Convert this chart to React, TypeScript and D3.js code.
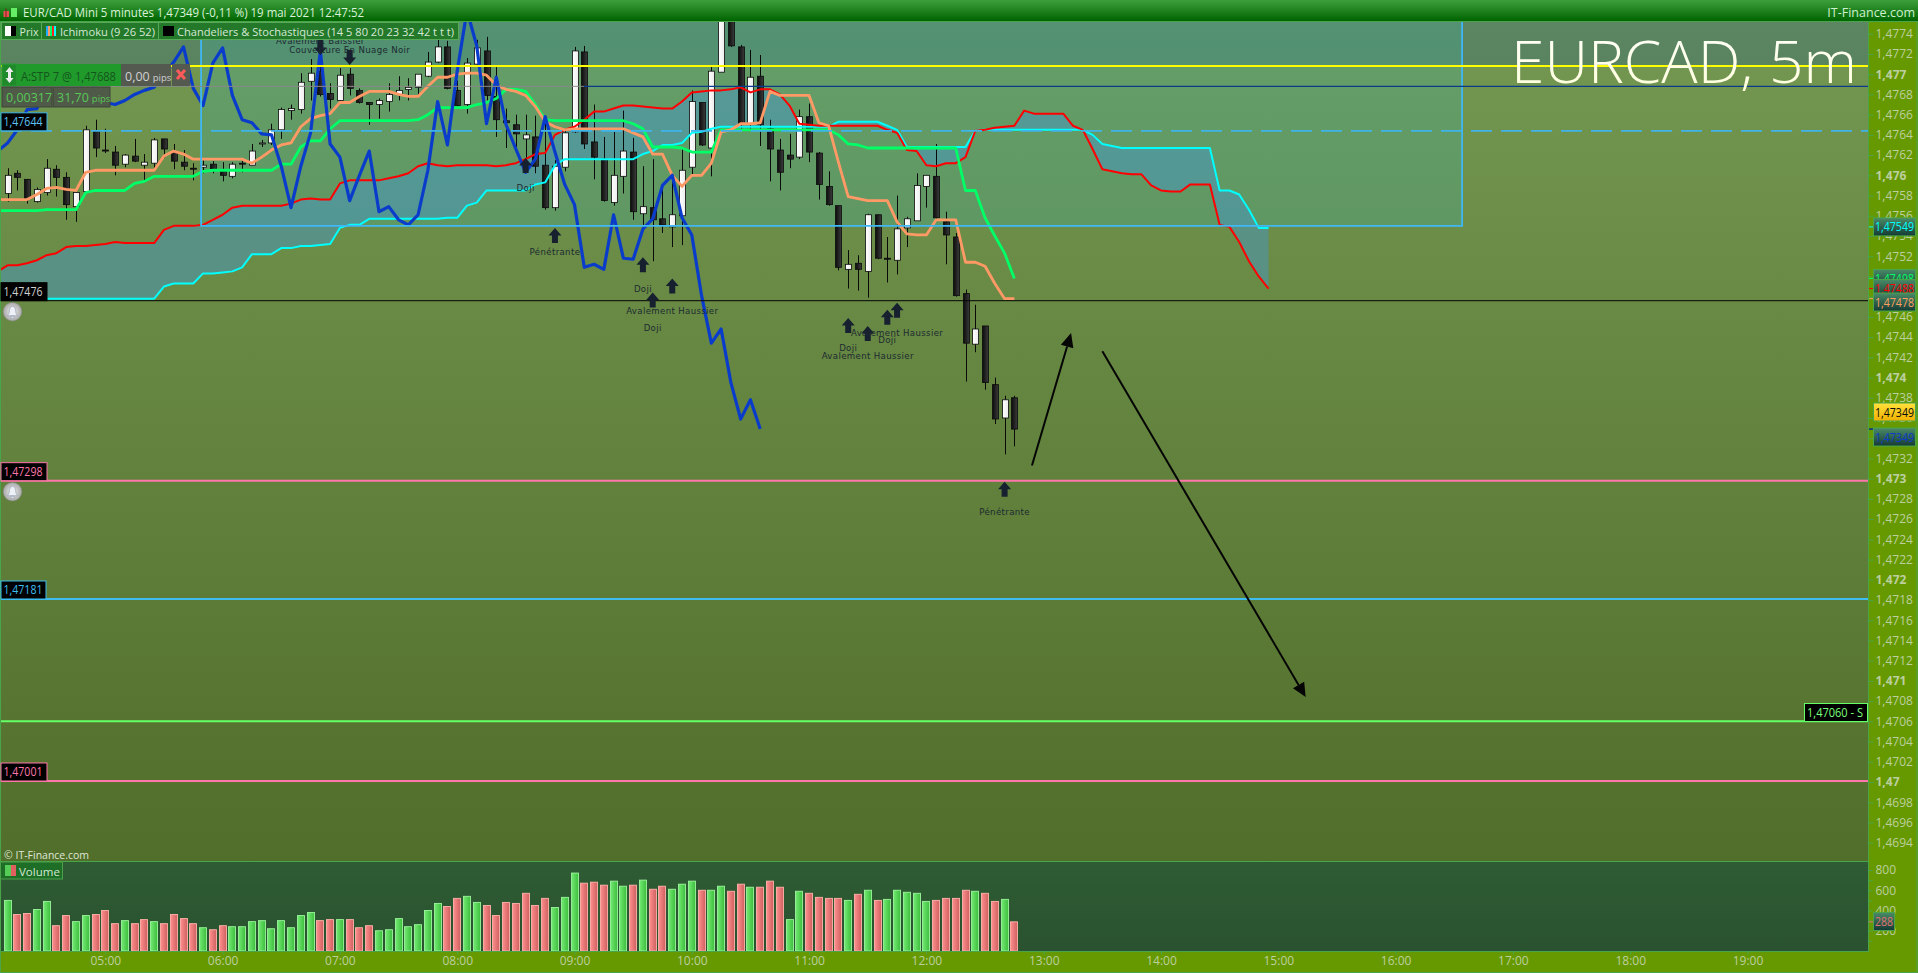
import React, { useEffect, useRef } from 'react';
import * as d3 from 'd3';

// all prices are points above 1.47000 (1 point = 0.00001)
const open = [
  582,602,596,574,583,606,598,569,584,644,
  625,623,611,619,610,612,636,623,613,607,
  608,611,604,599,612,610,631,632,645,664,
  665,693,703,681,674,700,684,672,670,673,
  680,685,687,698,712,727,684,670,710,723,
  678,654,650,636,638,610,568,608,643,722,
  633,616,573,599,623,562,568,557,549,560,
  608,672,627,702,760,727,651,698,646,625,
  620,618,658,622,589,570,507,513,505,561,
  518,516,548,555,589,599,554,539,483,433,
  451,393,360,380,
];
const high = [
  607,605,596,588,616,610,603,583,649,655,
  646,629,621,636,621,637,636,631,625,612,
  615,614,613,613,615,631,635,651,667,670,
  701,715,714,691,706,706,686,672,676,691,
  698,696,700,722,734,733,694,716,734,737,
  707,666,660,660,659,658,615,646,727,728,
  670,638,643,664,637,609,616,587,602,627,
  684,672,707,770,765,729,724,719,655,636,
  641,665,671,623,604,570,526,521,562,561,
  539,580,559,602,600,631,564,543,487,472,
  451,400,382,382,
];
const low = [
  574,585,572,573,580,579,556,554,584,618,
  622,600,608,613,594,604,617,606,605,595,
  602,602,594,597,603,610,628,630,636,655,
  661,674,678,666,673,679,671,650,656,663,
  674,674,679,697,711,685,668,661,709,674,
  638,627,628,615,602,566,565,604,642,626,
  596,574,570,582,556,551,515,543,529,531,
  600,629,599,702,727,646,646,629,594,585,
  607,616,613,576,570,506,488,486,479,517,
  494,502,529,555,568,557,512,480,396,425,
  388,354,324,332,
];
const close = [
  600,598,577,586,607,598,571,583,645,627,
  624,610,620,614,613,635,626,614,609,607,
  610,606,600,611,612,624,632,645,665,666,
  692,701,680,675,699,686,672,670,674,680,
  684,687,700,712,727,686,669,711,726,679,
  655,652,641,640,609,568,609,642,723,631,
  618,575,600,624,564,569,556,551,561,605,
  673,630,703,763,728,651,697,650,626,603,
  616,658,623,591,571,509,512,507,561,518,
  517,547,557,590,600,558,541,481,434,448,
  395,359,378,349,
];

// ichimoku lines start one slot before the first candle (cut by the left edge)
const tenkan = [
  576,576,576,576,581,587,588,586,585,603,605,605,605,605,605,605,605,619,624,621,
  616,616,616,616,616,616,612,618,625,630,632,648,656,659,661,672,672,678,683,683,
  683,680,678,678,688,697,697,700,701,701,699,689,685,683,679,668,653,648,645,646,
  646,646,646,646,646,642,638,621,621,600,589,600,600,612,643,645,651,651,652,683,
  679,679,679,679,652,649,613,579,577,575,575,575,554,542,541,541,556,556,556,514,
  514,510,493,478,478,
];
const kijun = [
  565,565,565,565,565,566,566,566,566,583,585,585,585,585,592,594,599,599,599,599,
  599,604,605,605,605,605,605,605,605,611,611,628,634,634,646,654,654,654,654,654,
  654,654,654,655,660,667,667,667,667,670,672,676,685,685,683,670,655,654,654,654,
  654,654,654,654,654,651,646,628,628,628,627,623,623,623,645,645,645,645,645,645,
  645,645,645,645,645,645,640,631,630,627,627,627,627,627,627,627,627,627,627,585,
  585,558,540,523,498,
];
const senkouA = [
  505,511,511,513,516,521,523,529,530,530,531,532,534,533,533,533,533,546,550,550,
  550,551,556,561,568,570,570,570,570,570,572,576,577,576,576,592,595,595,595,595,
  597,599,602,609,612,610,609,610,610,610,610,609,610,612,616,621,622,640,645,648,
  655,663,663,666,669,669,668,667,666,666,673,682,683,684,684,685,687,682,685,685,
  680,669,651,650,649,649,649,649,649,649,649,645,642,625,624,610,609,612,612,618,
  644,645,647,648,649,664,661,661,661,661,649,645,626,606,604,602,601,601,590,585,
  584,584,591,591,591,551,549,534,515,500,488,
];
const senkouB = [
  478,478,478,478,478,478,478,478,478,478,478,478,478,478,478,478,478,490,493,493,
  493,503,503,504,505,509,522,522,522,528,528,530,530,531,532,548,551,551,557,557,
  557,557,557,557,557,557,558,558,570,573,585,585,585,585,585,591,593,610,616,616,
  616,616,616,616,616,616,621,624,630,630,632,642,643,646,648,648,648,648,648,648,
  648,648,648,648,648,648,653,653,653,653,653,649,645,628,628,628,628,628,628,628,
  644,645,645,645,645,645,645,645,645,645,645,645,640,631,629,627,627,627,627,627,
  627,627,627,627,627,585,585,581,566,548,548,
];
const chikou = [
  624,632,645,665,666,692,701,680,675,699,686,672,670,674,680,
  684,687,700,712,727,686,669,711,726,679,655,652,641,640,609,
  568,609,642,723,631,618,575,600,624,564,569,556,551,561,605,
  673,630,703,763,728,651,697,650,626,603,616,658,623,591,571,
  509,512,507,561,518,517,547,557,590,600,558,541,481,434,448,
  395,359,378,349,
];

const volume = [
  500,360,370,410,490,250,350,290,350,360,400,270,300,270,310,290,270,360,320,270,
  230,210,250,240,240,290,300,220,300,230,350,380,300,310,310,310,230,250,200,210,
  320,240,260,400,470,440,520,540,480,450,350,480,470,570,450,520,430,530,770,670,
  680,650,690,640,650,700,610,640,610,660,690,600,600,640,590,660,630,630,690,630,
  310,590,570,530,520,520,500,560,600,500,510,600,580,570,490,500,520,520,600,590,
  570,490,510,288,
];
const volumeSide =
  'GRRGGRRGGRRRGRRGRRRRGRRGGGGGGGGGRRGRRRGGGGGGGRRGGRRRR' +
  'RRRGGGRRRGGRGRRGGGRGGRRGRRRGGRRRRGRGRGGGGGRRRRGRRGR';

const priceTicks = [
  1.4694,1.4696,1.4698,1.47,1.4702,1.4704,1.4706,1.4708,1.471,1.4712,1.4714,1.4716,1.4718,1.472,
  1.4722,1.4724,1.4726,1.4728,1.473,1.4732,1.4734,1.4736,1.4738,1.474,1.4742,1.4744,1.4746,1.4748,
  1.475,1.4752,1.4754,1.4756,1.4758,1.476,1.4762,1.4764,1.4766,1.4768,1.477,1.4772,1.4774,
];
const volumeTicks = [100,200,300,400,500,600,700,800];
const hourTicks = [5,6,7,8,9,10,11,12,13,14,15,16,17,18,19];

// candle pattern markers
const patternSlot = [32,35,53,56,65,68,66,86,88,90,91,102];
const patternTip = [719,709,617,548,519,498,484,459,451,467,474,297];
const patternLabelAt = [733,724,587,524,488,466,449,429,421,437,444,267];
const patternName = [
  'Avalement Baissier','Couverture En Nuage Noir','Doji','Pénétrante','Doji','Avalement Haussier',
  'Doji','Doji','Avalement Haussier','Doji','Avalement Haussier','Pénétrante',
];
const downPatterns = ['Avalement Baissier','Couverture En Nuage Noir'];

// hand drawn arrows: minutes since midnight, points
const drawnFromMinute = [774.5,810.3];
const drawnFromPrice = [313,426];
const drawnToMinute = [794.3,914.7];
const drawnToPrice = [444,84];

const boxStartMinute = 349.4;
const boxEndMinute = 994.3;
const boxBottomPrice = 550;

const SANS = '"Open Sans", "Noto Sans", sans-serif';
const axisText = '#bccf9f';

export default function App() {
  const ref = useRef<SVGSVGElement>(null);

  useEffect(() => {
    if (!ref.current) return;
    const svg = d3.select(ref.current);
    svg.selectAll('*').remove();

    const y = d3.scaleLinear().domain([1.47, 1.477]).range([782, 74.2]);
    const yp = (v: number) => y(1.47 + v / 1e5);
    const yv = d3.scaleLinear().domain([0, 800]).range([951, 870]);
    const x = d3.scaleTime()
      .domain([new Date(2021, 4, 19, 5, 0), new Date(2021, 4, 19, 19, 0)])
      .range([105.3, 1747.5]);
    const xs = (i: number) => x(new Date(2021, 4, 19, 4, 10 + 5 * i));
    const xm = (m: number) => x(new Date(2021, 4, 19, 0, m));
    const priceFormat = d3.formatLocale({ decimal: ',', thousands: ' ', grouping: [3], currency: ['', ''] }).format('.4~f');

    // gradients
    const defs = svg.append('defs');
    const grad = (id: string, stops: [number, string][], horizontal = false) => {
      const g = defs.append('linearGradient').attr('id', id)
        .attr('x1', 0).attr('y1', 0)
        .attr('x2', horizontal ? 1 : 0).attr('y2', horizontal ? 0 : 1);
      stops.forEach(([o, c]) => g.append('stop').attr('offset', o).attr('stop-color', c));
    };
    grad('chartBg', [[0, '#749852'], [1, '#516e2a']]);
    grad('titleBg', [[0, '#3c9f3c'], [1, '#006400']]);
    grad('volBg', [[0, '#2e5c33'], [1, '#2a5230']]);
    grad('bodyBlack', [[0, '#0c0c0c'], [1, '#3c3c3c']], true);
    grad('bodyWhite', [[0, '#ffffff'], [1, '#ececec']], true);
    grad('volGreen', [[0, '#72ea72'], [1, '#3dbd3d']], true);
    grad('volRed', [[0, '#ff8f8f'], [1, '#cf6060']], true);
    grad('tagBg', [[0, '#4a8a68'], [1, '#153a34']]);
    grad('tagGold', [[0, '#ffe23c'], [1, '#f0b000']]);
    grad('bigText', [[0, '#ffffff'], [1, '#ffffd8']]);
    const bellGrad = defs.append('radialGradient').attr('id', 'bell');
    bellGrad.append('stop').attr('offset', 0).attr('stop-color', '#f2f2f2');
    bellGrad.append('stop').attr('offset', 1).attr('stop-color', '#a8a8a8');

    // page and panes
    svg.append('rect').attr('width', 1918).attr('height', 973).attr('fill', '#669900');
    svg.append('rect').attr('x', 1).attr('y', 21).attr('width', 1867).attr('height', 840).attr('fill', 'url(#chartBg)');
    svg.append('rect').attr('x', 1).attr('y', 861).attr('width', 1867).attr('height', 90).attr('fill', 'url(#volBg)');

    // shaded zones
    svg.append('rect').attr('x', 1).attr('y', 21).attr('width', 1867).attr('height', yp(708) - 21)
      .attr('fill', 'rgba(32,93,133,0.3)');
    const boxLeft = xm(boxStartMinute);
    const boxRight = xm(boxEndMinute);
    svg.append('rect').attr('x', boxLeft).attr('y', 21).attr('width', boxRight - boxLeft).attr('height', yp(boxBottomPrice) - 21)
      .attr('fill', 'rgba(70,175,160,0.3)');

    // ichimoku cloud
    const cloud = d3.area<number>()
      .x((_, k) => xs(k - 1))
      .y0(d => yp(d))
      .y1((_, k) => yp(senkouB[k]));
    svg.append('path').datum(senkouA).attr('d', cloud).attr('fill', 'rgba(68,150,209,0.45)');

    // candles
    const candles = svg.append('g').selectAll('g').data(open).join('g');
    candles.append('line')
      .attr('x1', (_, i) => Math.round(xs(i)) + 0.5).attr('x2', (_, i) => Math.round(xs(i)) + 0.5)
      .attr('y1', (_, i) => yp(high[i])).attr('y2', (_, i) => yp(low[i]))
      .attr('stroke', '#0a0a0a').attr('stroke-width', 1);
    candles.append('rect')
      .attr('x', (_, i) => Math.round(xs(i)) - 2.5)
      .attr('width', 6)
      .attr('y', (d, i) => yp(Math.max(d, close[i])))
      .attr('height', (d, i) => Math.max(1, yp(Math.min(d, close[i])) - yp(Math.max(d, close[i]))))
      .attr('fill', (d, i) => (close[i] > d ? 'url(#bodyWhite)' : 'url(#bodyBlack)'))
      .attr('stroke', '#0a0a0a').attr('stroke-width', 0.8);

    // ichimoku lines
    const line = d3.line<number>().x((_, k) => xs(k - 1)).y(d => yp(d));
    const drawLine = (data: number[], color: string, width: number) =>
      svg.append('path').datum(data).attr('d', line).attr('fill', 'none')
        .attr('stroke', color).attr('stroke-width', width).attr('stroke-linejoin', 'round');
    drawLine(senkouB, '#00ffff', 2);
    drawLine(senkouA, '#ff0000', 2);
    drawLine(kijun, '#00ff66', 2.8);
    drawLine(tenkan, '#ff9966', 2.8);
    drawLine(chikou, '#0a3ccc', 3.2);

    // box outline, sits over the candles
    svg.append('path')
      .attr('d', `M${boxLeft},21V${yp(boxBottomPrice)}H${boxRight}V21`)
      .attr('fill', 'none').attr('stroke', '#3fb8f5').attr('stroke-width', 1.8);

    // horizontal levels
    const level = (v: number, color: string, width: number, from = 1, to = 1868, dash?: string) =>
      svg.append('line').attr('x1', from).attr('x2', to).attr('y1', yp(v)).attr('y2', yp(v))
        .attr('stroke', color).attr('stroke-width', width).attr('stroke-dasharray', dash ?? null);
    level(708, '#ffff00', 2);
    level(688, '#8a8a8a', 1, 1, 584);
    level(688, '#0a3a8a', 1.2, 584, 1868);
    level(644, '#3fb4ea', 1.8, 1, 1868, '21 9');
    level(476, '#050505', 1);
    level(298, '#ff77aa', 2);
    level(181, '#3fbcf0', 2);
    level(60, '#66ff66', 2);
    level(1, '#ff77aa', 2);

    // pattern markers
    const markers = svg.append('g').selectAll('g').data(patternSlot).join('g');
    markers.append('path')
      .attr('transform', (d, i) => {
        const down = downPatterns.includes(patternName[i]);
        return `translate(${xs(d)},${yp(patternTip[i])}) scale(1,${down ? -1 : 1})`;
      })
      .attr('d', 'M0,0L6.5,7.5H3V15H-3V7.5H-6.5Z')
      .attr('fill', '#17202f');
    markers.append('text')
      .attr('x', d => xs(d))
      .attr('y', (_, i) => yp(patternLabelAt[i]) + 3)
      .attr('text-anchor', 'middle')
      .attr('font-family', '"DejaVu Sans", sans-serif')
      .attr('font-size', 8.6)
      .attr('letter-spacing', 0.35)
      .attr('fill', '#1c2a30')
      .text((_, i) => patternName[i]);

    // hand drawn arrows
    drawnFromMinute.forEach((m, i) => {
      const x0 = xm(m), y0 = yp(drawnFromPrice[i]);
      const x1 = xm(drawnToMinute[i]), y1 = yp(drawnToPrice[i]);
      const len = Math.hypot(x1 - x0, y1 - y0);
      const ux = (x1 - x0) / len, uy = (y1 - y0) / len;
      const bx = x1 - ux * 14, by = y1 - uy * 14;
      svg.append('line').attr('x1', x0).attr('y1', y0).attr('x2', bx).attr('y2', by)
        .attr('stroke', '#050505').attr('stroke-width', 2);
      svg.append('path')
        .attr('d', `M${x1},${y1}L${bx - uy * 6.5},${by + ux * 6.5}L${bx + uy * 6.5},${by - ux * 6.5}Z`)
        .attr('fill', '#050505');
    });

    // big symbol label
    svg.append('text').attr('x', 1511).attr('y', 83)
      .attr('font-family', SANS).attr('font-weight', 300).attr('font-size', 59.5).attr('fill', 'url(#bigText)')
      .attr('textLength', 346).attr('lengthAdjust', 'spacingAndGlyphs')
      .text('EURCAD, 5m');

    svg.append('text').attr('x', 4).attr('y', 859)
      .attr('font-family', SANS).attr('font-size', 10.5).attr('fill', '#dfe6d4').text('© IT-Finance.com');

    // volume bars
    svg.append('g').selectAll('rect').data(volume).join('rect')
      .attr('x', (_, i) => Math.round(xs(i)) - 3.5)
      .attr('width', 7)
      .attr('y', d => yv(d))
      .attr('height', d => 951 - yv(d))
      .attr('fill', (_, i) => (volumeSide[i] === 'G' ? 'url(#volGreen)' : 'url(#volRed)'))
      .attr('stroke', (_, i) => (volumeSide[i] === 'G' ? '#9cf59c' : '#ffb3ab'))
      .attr('stroke-width', 0.9);

    // chrome on top of the series
    svg.append('rect').attr('x', 1868).attr('y', 21).attr('width', 50).attr('height', 952).attr('fill', '#669900');
    svg.append('rect').attr('y', 951).attr('width', 1918).attr('height', 22).attr('fill', '#669900');
    svg.append('line').attr('x1', 0).attr('x2', 1868).attr('y1', 861.5).attr('y2', 861.5).attr('stroke', '#4aa54a');
    svg.append('line').attr('x1', 0).attr('x2', 1868).attr('y1', 951.5).attr('y2', 951.5).attr('stroke', '#4aa54a');
    svg.append('line').attr('x1', 1868.5).attr('x2', 1868.5).attr('y1', 21).attr('y2', 952).attr('stroke', '#4aa54a');
    svg.append('rect').attr('x', 0.5).attr('y', 0.5).attr('width', 1916.5).attr('height', 972)
      .attr('fill', 'none').attr('stroke', '#4aa54a');

    // axes
    const styleAxis = (g: d3.Selection<SVGGElement, unknown, null, undefined>) => {
      g.select('.domain').remove();
      g.selectAll('line').attr('stroke', '#4aa54a');
      g.selectAll('text').attr('fill', axisText).attr('font-family', SANS).attr('font-size', 12);
    };
    const priceAxis = svg.append('g').attr('transform', 'translate(1868.5,0)')
      .call(d3.axisRight(y).tickValues(priceTicks).tickSize(5).tickPadding(2).tickFormat(d => priceFormat(d as number)));
    styleAxis(priceAxis);
    priceAxis.selectAll<SVGTextElement, number>('text')
      .attr('font-weight', d => (Math.abs(d * 1000 - Math.round(d * 1000)) < 1e-6 ? 700 : 400));

    const volAxis = svg.append('g').attr('transform', 'translate(1868.5,0)')
      .call(d3.axisRight(yv).tickValues(volumeTicks).tickSize(4).tickPadding(3)
        .tickFormat(d => ((d as number) % 200 === 0 ? String(d) : '')));
    styleAxis(volAxis);

    const timeAxis = svg.append('g').attr('transform', 'translate(0,951.5)')
      .call(d3.axisBottom(x)
        .tickValues(hourTicks.map(h => new Date(2021, 4, 19, h, 0)))
        .tickSize(3).tickPadding(2)
        .tickFormat(d => d3.timeFormat('%H:%M')(d as Date)));
    styleAxis(timeAxis);

    // right side value tags
    const tag = (v: number, text: string, color: string, w = 42, bg = 'url(#tagBg)', yCenter?: number) => {
      const cy = yCenter ?? yp(v);
      svg.append('line').attr('x1', 1869).attr('x2', 1873).attr('y1', yp(v)).attr('y2', yp(v)).attr('stroke', color);
      svg.append('rect').attr('x', 1873.5).attr('y', cy - 9).attr('width', w).attr('height', 18)
        .attr('fill', bg).attr('stroke', '#4aa54a');
      svg.append('text').attr('x', 1875).attr('y', cy + 4.5).attr('fill', color)
        .attr('font-family', SANS).attr('font-size', 12)
        .attr('textLength', 39).attr('lengthAdjust', 'spacingAndGlyphs').text(text);
    };
    tag(549, '1,47549', '#00ffff');
    tag(498, '1,47498', '#00ff66');
    tag(488, '1,47488', '#ff0000');
    tag(478, '1,47478', '#ffa060', 42, 'url(#tagBg)', 302);
    tag(349, '1,47349', '#0a0a0a', 42, 'url(#tagGold)', 412);
    tag(349, '1,47349', '#0a3ccc', 42, 'url(#tagBg)', 437);
    svg.append('line').attr('x1', 1869).attr('x2', 1875).attr('y1', yv(288)).attr('y2', yv(288)).attr('stroke', '#e07070');
    svg.append('rect').attr('x', 1873.5).attr('y', 912.5).attr('width', 21).attr('height', 18)
      .attr('fill', 'url(#tagBg)').attr('stroke', '#4aa54a');
    svg.append('text').attr('x', 1875).attr('y', 926).attr('fill', '#e07070')
      .attr('font-family', SANS).attr('font-size', 12)
      .attr('textLength', 18).attr('lengthAdjust', 'spacingAndGlyphs').text('288');

    // left side value tags
    const leftTag = (v: number, text: string, color: string, stroke: string, w = 46) => {
      const bottom = yp(v);
      svg.append('rect').attr('x', 1).attr('y', bottom - 18).attr('width', w).attr('height', 18)
        .attr('fill', '#000').attr('stroke', stroke);
      svg.append('text').attr('x', 3.5).attr('y', bottom - 4.5).attr('fill', color)
        .attr('font-family', SANS).attr('font-size', 12)
        .attr('textLength', 39).attr('lengthAdjust', 'spacingAndGlyphs').text(text);
    };
    leftTag(644, '1,47644', '#5fc4f5', '#3fb4ea');
    leftTag(476, '1,47476', '#d0d0d0', '#000');
    leftTag(298, '1,47298', '#ff77aa', '#ff77aa');
    leftTag(181, '1,47181', '#3fbcf0', '#3fbcf0', 45);
    leftTag(1, '1,47001', '#ff77aa', '#ff77aa');

    svg.append('rect').attr('x', 1804.5).attr('y', 703.5).attr('width', 63).attr('height', 18)
      .attr('fill', '#000').attr('stroke', '#66ff66');
    svg.append('text').attr('x', 1807).attr('y', 717).attr('fill', '#7cff7c')
      .attr('font-family', SANS).attr('font-size', 12)
      .attr('textLength', 56).attr('lengthAdjust', 'spacingAndGlyphs').text('1,47060 - S');

    // alert bells
    [476, 298].forEach(v => {
      const g = svg.append('g').attr('transform', `translate(12.5,${yp(v) + 11})`);
      g.append('circle').attr('r', 9.3).attr('fill', 'url(#bell)').attr('stroke', '#8a8a8a').attr('stroke-width', 0.5);
      g.append('path').attr('d', 'M-5,4Q-3,2-3,-2Q-3,-5,0,-5.5Q3,-5,3,-2Q3,2,5,4ZM-1.5,4.5H1.5V6.5H-1.5Z')
        .attr('fill', '#eef2f8').attr('stroke', '#9aa4b4').attr('stroke-width', 0.7);
    });

    // title bar
    svg.append('rect').attr('width', 1918).attr('height', 21).attr('fill', 'url(#titleBg)');
    svg.append('line').attr('x1', 0).attr('x2', 1918).attr('y1', 21.5).attr('y2', 21.5).attr('stroke', '#4aa54a');
    svg.append('rect').attr('x', 3.5).attr('y', 11).attr('width', 5.5).attr('height', 6).attr('fill', '#e85050');
    svg.append('line').attr('x1', 6).attr('x2', 6).attr('y1', 8.5).attr('y2', 18.5).attr('stroke', '#7a2020');
    svg.append('rect').attr('x', 11).attr('y', 8).attr('width', 6).attr('height', 9).attr('fill', '#66ee66');
    svg.append('text').attr('x', 23).attr('y', 17)
      .attr('font-family', SANS).attr('font-size', 12.5).attr('fill', '#d9f2d9')
      .attr('textLength', 341).attr('lengthAdjust', 'spacingAndGlyphs')
      .text('EUR/CAD Mini 5 minutes 1,47349 (-0,11 %) 19 mai 2021 12:47:52');
    svg.append('text').attr('x', 1915).attr('y', 17).attr('text-anchor', 'end')
      .attr('font-family', SANS).attr('font-size', 12.5).attr('fill', '#cdf0cd').text('IT-Finance.com');

    // legend strip
    const legendCell = (x0: number, w: number, label: string, textX: number, textW: number) => {
      svg.append('rect').attr('x', x0 + 0.5).attr('y', 22.5).attr('width', w).attr('height', 17)
        .attr('fill', '#23782a').attr('stroke', '#58aa58');
      svg.append('text').attr('x', textX).attr('y', 36)
        .attr('font-family', SANS).attr('font-size', 11.6).attr('fill', '#d5e8d5')
        .attr('textLength', textW).attr('lengthAdjust', 'spacingAndGlyphs').text(label);
    };
    legendCell(1, 40, 'Prix', 19.5, 19);
    legendCell(41, 117, 'Ichimoku (9 26 52)', 60, 95);
    legendCell(158, 300, 'Chandeliers & Stochastiques (14 5 80 20 23 32 42 t t t)', 177, 277);
    svg.append('rect').attr('x', 5).attr('y', 26).attr('width', 6).attr('height', 10).attr('fill', '#fff');
    svg.append('rect').attr('x', 11).attr('y', 26).attr('width', 5).attr('height', 10).attr('fill', '#000');
    ['#22aaff', '#ff9966', '#00ff66', '#ff2222', '#00ffff'].forEach((c, i) =>
      svg.append('rect').attr('x', 46 + i * 2).attr('y', 26).attr('width', 2).attr('height', 10).attr('fill', c));
    svg.append('rect').attr('x', 163).attr('y', 26).attr('width', 11).attr('height', 10).attr('fill', '#000');

    // open order panel
    svg.append('rect').attr('x', 2).attr('y', 64).attr('width', 15).attr('height', 22).attr('fill', '#1f8a2a').attr('stroke', '#2aa034');
    svg.append('path').attr('d', 'M9.5,67L13.5,72H11V78H13.5L9.5,83L5.5,78H8V72H5.5Z').attr('fill', '#ececec');
    svg.append('rect').attr('x', 17).attr('y', 64).attr('width', 104).attr('height', 22).attr('fill', '#219a2c');
    svg.append('text').attr('x', 21).attr('y', 81).attr('font-family', SANS).attr('font-size', 12.5)
      .attr('fill', '#14551c').attr('textLength', 95).attr('lengthAdjust', 'spacingAndGlyphs').text('A:STP  7 @ 1,47688');
    svg.append('rect').attr('x', 121).attr('y', 64).attr('width', 50).attr('height', 22).attr('fill', '#555a50');
    svg.append('text').attr('x', 125).attr('y', 81).attr('font-family', SANS).attr('font-size', 12.5)
      .attr('fill', '#d0d0d0').text('0,00').append('tspan').attr('font-size', 9.5).attr('dx', 3).text('pips');
    svg.append('rect').attr('x', 172).attr('y', 64).attr('width', 18).attr('height', 22).attr('fill', '#555a50');
    svg.append('path').attr('d', 'M177,70L185,79M185,70L177,79').attr('stroke', '#ff5a5a').attr('stroke-width', 3);
    svg.append('rect').attr('x', 2).attr('y', 87).attr('width', 50).attr('height', 20).attr('fill', '#4f5a48').attr('stroke', '#3c4438');
    svg.append('rect').attr('x', 53).attr('y', 87).attr('width', 57).attr('height', 20).attr('fill', '#4f5a48').attr('stroke', '#3c4438');
    svg.append('text').attr('x', 6).attr('y', 102).attr('font-family', SANS).attr('font-size', 12.5)
      .attr('fill', '#58c858').text('0,00317');
    svg.append('text').attr('x', 57).attr('y', 102).attr('font-family', SANS).attr('font-size', 12.5)
      .attr('fill', '#58c858').text('31,70').append('tspan').attr('font-size', 9.5).attr('dx', 3).text('pips');

    // volume legend
    svg.append('rect').attr('x', 0.5).attr('y', 862).attr('width', 62).attr('height', 17).attr('fill', '#1f6e28').attr('stroke', '#4ca04c');
    svg.append('rect').attr('x', 5).attr('y', 865).attr('width', 6).attr('height', 11).attr('fill', '#55cc55');
    svg.append('rect').attr('x', 11).attr('y', 865).attr('width', 5).attr('height', 11).attr('fill', '#e06060');
    svg.append('text').attr('x', 19).attr('y', 876).attr('font-family', SANS).attr('font-size', 11.5)
      .attr('fill', '#d0e8d0').text('Volume');
  }, []);

  return (
    <svg
      ref={ref}
      width={1918}
      height={973}
      style={{ position: 'fixed', left: 0, top: 0, display: 'block' }}
    />
  );
}
